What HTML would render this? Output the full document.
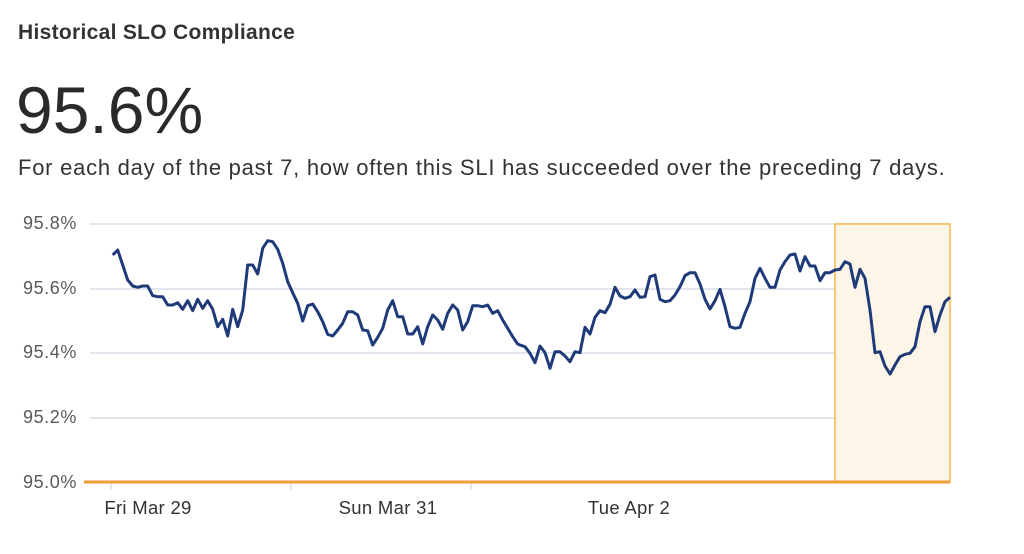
<!DOCTYPE html>
<html><head><meta charset="utf-8"><style>
body{margin:0;width:1024px;height:554px;background:#fff;font-family:"Liberation Sans",sans-serif;overflow:hidden;position:relative}
.t{position:absolute;left:18px;top:21px;font-size:21px;color:#333;font-weight:bold;letter-spacing:0.3px}
.big{position:absolute;left:16px;top:72px;font-size:66px;color:#2a2a2a;font-weight:300;letter-spacing:0px}
.sub{position:absolute;left:18px;top:155px;font-size:22px;color:#333;letter-spacing:0.75px;white-space:nowrap}
</style></head><body>
<div class="t">Historical SLO Compliance</div>
<div class="big">95.6%</div>
<div class="sub">For each day of the past 7, how often this SLI has succeeded over the preceding 7 days.</div>
<svg width="1024" height="554" style="position:absolute;left:0;top:0" font-family="Liberation Sans, sans-serif">
<g stroke="#e3e6ec" stroke-width="2">
<line x1="90" x2="950" y1="224" y2="224"/><line x1="90" x2="950" y1="289" y2="289"/>
<line x1="90" x2="950" y1="353" y2="353"/><line x1="90" x2="950" y1="418" y2="418"/>
<line x1="111" x2="111" y1="482" y2="490"/><line x1="291" x2="291" y1="482" y2="490"/><line x1="471" x2="471" y1="482" y2="490"/>
</g>
<rect x="835" y="224" width="115" height="258" fill="#fdf5e8" stroke="#f5b84a" stroke-width="1.5"/>
<line x1="84" x2="950" y1="482" y2="482" stroke="#ef9d34" stroke-width="3"/>
<g fill="#5a5a5a" font-size="18" text-anchor="end" letter-spacing="0.6">
<text x="77" y="229">95.8%</text><text x="77" y="294">95.6%</text><text x="77" y="358">95.4%</text><text x="77" y="423">95.2%</text><text x="77" y="488">95.0%</text>
</g>
<g fill="#333" font-size="18.5" text-anchor="middle" letter-spacing="0.3">
<text x="148" y="514">Fri Mar 29</text><text x="388" y="514">Sun Mar 31</text><text x="629" y="514">Tue Apr 2</text>
</g>
<polyline id="ln" fill="none" stroke="#1f3a78" stroke-width="3" stroke-linejoin="round"/>
</svg>
<script>
var a=[68,135,83,120,98,165,113,210,128,228,143,232,158,228,173,228,188,257,203,260,218,260,233,285,248,285,263,278,278,298,293,272,308,302,323,268,338,295,353,272,368,298,383,350,398,328,413,378,428,298,443,350,458,300,473,165,488,165,503,192,518,115,533,92,548,95,563,118,578,160,593,215,608,248,623,280,638,333,653,287,668,282,683,305,698,335,713,373,728,378,743,360,758,340,773,305,788,305,803,315,818,360,833,362,848,405,863,382,878,355,893,300,908,272,923,320,938,320,953,372,968,372,983,350,998,402,1013,350,1028,315,1043,330,1058,358,1073,310,1088,285,1103,300,1118,360,1133,335,1148,287,1163,287,1178,290,1193,285,1208,310,1223,302,1238,330,1253,355,1268,380,1283,402,1298,410];
var b=[0,405,15,410,30,430,45,458,60,408,75,428,90,475,105,425,120,425,135,438,150,455,165,425,180,428,195,352,210,372,225,322,240,302,255,308,270,283,285,232,300,258,315,265,330,260,345,240,360,262,375,260,390,200,405,195,420,268,435,275,450,272,465,255,480,230,495,197,510,188,525,188,540,222,555,268,570,297,585,272,600,238,615,290,630,350,645,355,660,352,675,310,690,275,705,205,720,175,735,205,750,232,765,232,780,180,795,155,810,135,825,132,840,183,855,140,870,168,885,168,900,212,915,188,930,188,945,180,960,178,975,155,990,162,1005,232,1020,178,1035,205,1050,300,1065,428,1080,425,1095,468,1110,492,1125,465,1140,440,1155,433,1170,430,1185,410,1200,335,1215,290,1230,290,1245,365,1260,315,1275,275,1290,262];
var p=[];
for(var i=0;i<a.length;i+=2){var x=90+a[i]/3;if(x<520)p.push(x.toFixed(1)+','+(210+a[i+1]/3).toFixed(1));}
for(var i=0;i<b.length;i+=2)p.push((520+b[i]/3).toFixed(1)+','+(210+b[i+1]/3).toFixed(1));
document.getElementById('ln').setAttribute('points',p.join(' '));
</script>
</body></html>
